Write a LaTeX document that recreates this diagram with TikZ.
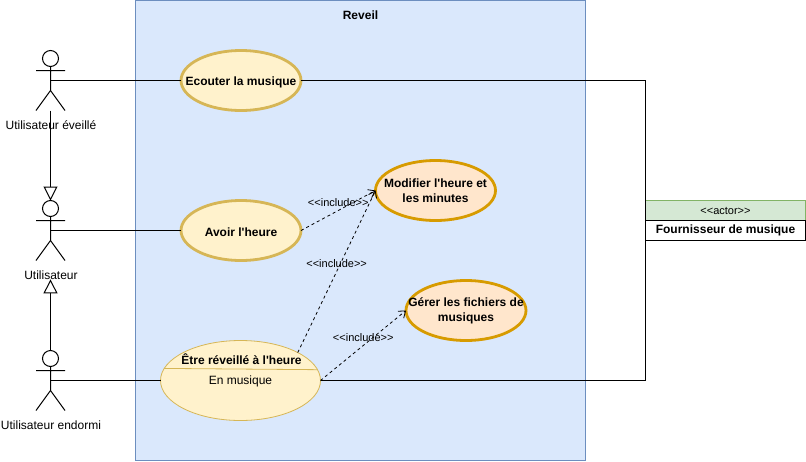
\documentclass[tikz,border=0pt]{standalone}
\usepackage{fontspec}
\setmainfont{Liberation Sans}[Ligatures=TeXOff]
\usetikzlibrary{shapes.geometric,arrows.meta}
\definecolor{systemfill}{HTML}{DAE8FC}
\definecolor{systemline}{HTML}{6C8EBF}
\definecolor{usefill}{HTML}{FFF2CC}
\definecolor{useline}{HTML}{D6B656}
\definecolor{subfill}{HTML}{FFE6CC}
\definecolor{subline}{HTML}{D79B00}
\definecolor{actorfill}{HTML}{D5E8D4}
\definecolor{actorline}{HTML}{82B366}
\tikzset{
    txt/.style={font=\fontsize{12}{15}\selectfont, inner sep=0pt, outer sep=0pt, align=center},
    usecase/.style={ellipse, draw=useline, fill=usefill, line width=2.8pt, minimum width=120pt,
        minimum height=60pt, inner xsep=-25pt, inner ysep=0pt, outer sep=0pt, align=center,
        font=\fontsize{12}{15}\selectfont\bfseries, execute at begin node={\rule{0pt}{11.5pt}}},
    subcase/.style={usecase, draw=subline, fill=subfill},
    inclusion/.style={dashed, dash pattern=on 3pt off 3pt, line width=.8pt, -{Straight Barb[length=6pt,width=9pt]}},
    includelabel/.style={midway, yshift=8pt, font=\fontsize{11}{12}\selectfont, inner sep=0pt},
    heritage/.style={line width=1pt, -{Triangle[open,length=14pt,width=14pt]}},
    pics/stickman/.style={code={
        \draw[line width=1pt] (0,-22) circle (8pt);
        \draw[line width=1pt] (0,-14) -- (0,10) (-14.5,-10) -- (14.5,-10) (-14.5,30) -- (0,10) -- (14.5,30);
        \coordinate (-hub) at (0,0);
        \coordinate (-tete) at (0,-30);
        \coordinate (-pied) at (0,30);
    }}
}
\begin{document}
\begin{tikzpicture}[x=1pt,y=-1pt]
    \useasboundingbox (0,0) rectangle (806,461);
    \node[draw=systemline, fill=systemfill, line width=1pt, minimum width=450pt, minimum height=460pt,
        inner sep=0pt] (reveil) at (360.5,230) {};
    \node[txt, font=\fontsize{12}{15}\selectfont\bfseries] (titre) at (360.5,15) {Reveil};

    \pic (eveille) at (50.5,80.5) {stickman};
    \pic (utilisateur) at (50.5,230.5) {stickman};
    \pic (endormi) at (50.5,380.5) {stickman};
    \node[txt] (eveilleLabel) at (51,125) {Utilisateur éveillé};
    \node[txt] (utilisateurLabel) at (51,275) {Utilisateur};
    \node[txt] (endormiLabel) at (51,425) {Utilisateur endormi};

    \node[usecase] (ecouter) at (241,80.5) {Ecouter la musique};
    \node[usecase] (avoir) at (241,230.5) {Avoir l'heure};
    \node[subcase] (modifier) at (435.5,190.5) {Modifier l'heure et\\les minutes};
    \node[subcase] (gerer) at (466,310.5) {Gérer les fichiers de\\musiques};

    \node[ellipse, draw=useline, fill=usefill, line width=.8pt, minimum width=160pt, minimum height=80pt,
        inner sep=0pt, outer sep=0pt] (reveille) at (240.5,380.5) {};
    \draw[useline, line width=.8pt] (reveille.171.1) -- (reveille.8.9);
    \node[txt, font=\fontsize{12}{15}\selectfont\bfseries] (reveilleTitre) at (241.5,359) {Être réveillé à l'heure};
    \node[txt] (musique) at (240.5,381) {En musique};

    \node[draw=actorline, fill=actorfill, line width=.8pt, minimum width=160pt, minimum height=20pt,
        inner sep=0pt, outer sep=0pt, font=\fontsize{11}{13}\selectfont] (stereotype) at (725.5,210.5) {<<actor>>};
    \node[draw, fill=white, line width=1pt, minimum width=160pt, minimum height=20pt, inner sep=0pt, outer sep=0pt,
        font=\fontsize{12}{15}\selectfont\bfseries] (fournisseur) at (725.5,230.5) {Fournisseur de musique};

    \path[line width=1pt, draw]
        (eveille-hub) -- (ecouter)
        (utilisateur-hub) -- (avoir)
        (endormi-hub) -- (reveille)
        (ecouter) -| (stereotype.west)
        (reveille) -| (stereotype.west);
    \draw[heritage] (eveille-pied) -- (utilisateur-tete);
    \draw[heritage] (endormi-tete) -- (endormi-tete |- utilisateurLabel.south);
    \draw[inclusion] (avoir.east) -- node[includelabel] {<<include>>} (modifier.west);
    \draw[inclusion] (reveille.26.4) -- node[includelabel] {<<include>>} (modifier.west);
    \draw[inclusion] (reveille.east) -- node[includelabel] {<<include>>} (gerer.west);
\end{tikzpicture}
\end{document}
